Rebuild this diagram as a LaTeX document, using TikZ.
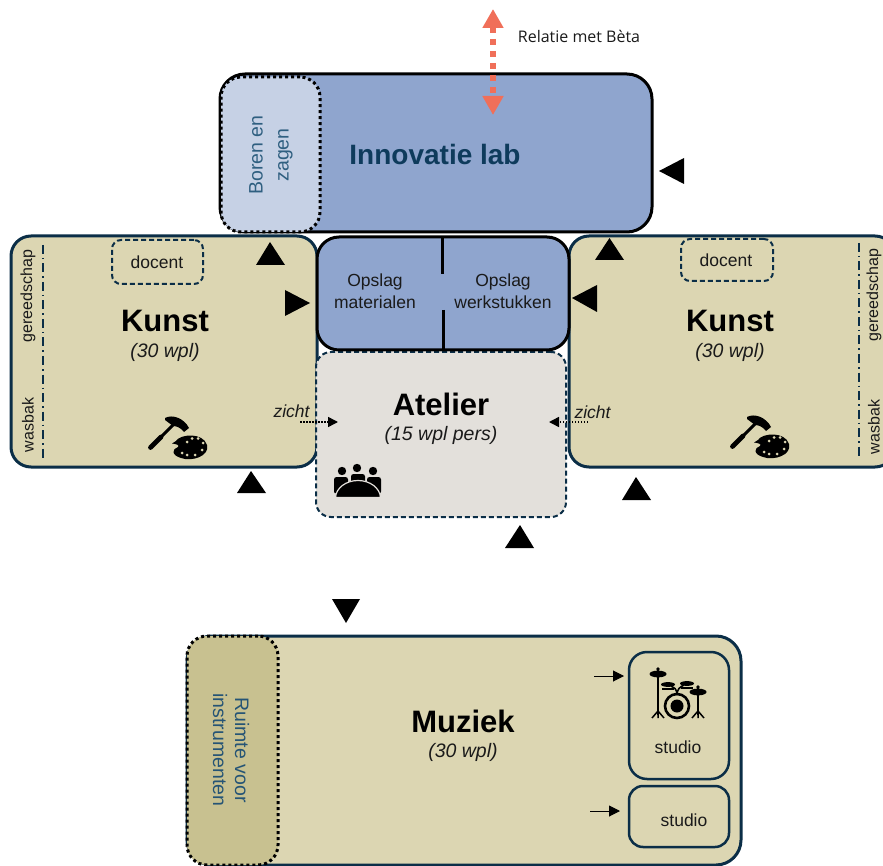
\documentclass[tikz,border=0pt]{standalone}
\usepackage{fontspec}
\setmainfont{Liberation Sans}
\newfontfamily\relfont{Open Sans}
\usetikzlibrary{arrows.meta}
\definecolor{tan}{HTML}{DCD6B2}
\definecolor{darktan}{HTML}{C8C190}
\definecolor{labblue}{HTML}{8FA5CE}
\definecolor{lightblue}{HTML}{C6D1E5}
\definecolor{atel}{HTML}{E3E0DB}
\definecolor{navy}{HTML}{0B2E47}
\definecolor{labtext}{HTML}{0E3B5C}
\definecolor{softtext}{HTML}{2F5F80}
\definecolor{ink}{HTML}{1A1A1A}
\definecolor{salmon}{HTML}{F06F59}
\tikzset{
  box/.style={inner sep=0pt,outer sep=0pt,align=center},
  room/.style={box,draw=navy,line width=3pt,fill=tan,rounded corners=20pt},
  blueroom/.style={box,draw=black,line width=3pt,fill=labblue,rounded corners=22pt},
  dottedbox/.style={box,draw=black,line width=3pt,dash pattern=on 3pt off 3pt,rounded corners=20pt},
  dashedbox/.style={box,draw=navy,line width=2pt,dash pattern=on 5pt off 3pt,rounded corners=9pt},
  studiobox/.style={box,draw=navy,line width=2.5pt,rounded corners=18pt},
  bigtitle/.style={box,font=\fontsize{31}{31}\selectfont\bfseries,text=black},
  subtitle/.style={box,font=\fontsize{19.5}{20}\selectfont\itshape,text=ink},
  small/.style={box,font=\fontsize{17.5}{21.5}\selectfont,text=ink},
  side/.style={box,font=\fontsize{16}{16}\selectfont,text=ink,rotate=90},
  marker/.style={fill=black,draw=none},
  zichtarrow/.style={draw=black,line width=1.5pt,dash pattern=on 1.5pt off 1.5pt,-{Triangle[length=10pt,width=10pt]}},
  smallarrow/.style={draw=black,line width=1pt,-{Triangle[length=11pt,width=11pt]}},
  divider/.style={draw=black,line width=3pt},
  chain/.style={draw=navy,line width=2pt,dash pattern=on 9pt off 4pt on 1.5pt off 4pt}
}
\newcommand{\toolsicon}[2]{%
 \begin{scope}[shift={(#1,#2)}]
  \draw[line width=4.8pt,line cap=round,black] (150.5,447.5) -- (161,437);
  \draw[line width=3pt,black] (160,438) -- (176,422);
  \fill[black] (165,418) .. controls (172,414) and (184,418) .. (189,428) -- (184,432) .. controls (181,428) and (177,426) .. (173,426) -- (165,420) -- cycle;
  \fill[black] (176,441) .. controls (180,434) and (203,432) .. (207,445) .. controls (210,456) and (192,462) .. (181,458) .. controls (171,455) and (172,449) .. (178,447) .. controls (180,445) and (176,444) .. (172,443.5) -- cycle;
  \foreach \p/\q in {187/442,192/438.5,198/438.5,203/443,202/450,195/455,187/455,182/453}
    \fill[tan] (\p,\q) circle (1.5pt);
 \end{scope}}
\begin{document}
\begin{tikzpicture}[x=1pt,y=-1pt]
\useasboundingbox (0,0) rectangle (883,866);
\clip (0,0) rectangle (883,866);

% Kunst rooms
\node[room,minimum width=306pt,minimum height=231pt] (kunstL) at (164,351.5) {};
\node[room,minimum width=326pt,minimum height=231pt] (kunstR) at (732,351.5) {};
% Atelier
\node[box,draw=navy,line width=2pt,dash pattern=on 5pt off 3pt,fill=atel,rounded corners=15pt,minimum width=250pt,minimum height=165pt] (atelier) at (441,434.5) {};
% Opslag
\node[blueroom,minimum width=252pt,minimum height=113pt] (opslag) at (443,293.5) {};
\coordinate (divTop) at (442,237);
\coordinate (divTopEnd) at (442,274);
\coordinate (divBot) at (443,310);
\coordinate (divBotEnd) at (443,350);
\draw[divider] (divTop) -- (divTopEnd);
\draw[divider] (divBot) -- (divBotEnd);
% Innovatie lab
\node[blueroom,rounded corners=25pt,minimum width=432pt,minimum height=158pt] (lab) at (436,153) {};
\node[dottedbox,fill=lightblue,minimum width=99pt,minimum height=155pt] (boren) at (270.5,154.5) {};
\node[box,rotate=90,font=\fontsize{19.5}{26}\selectfont,text=softtext] (borentxt) at (271,155) {Boren en\\zagen};
\node[box,font=\fontsize{28}{28}\selectfont\bfseries,text=labtext] (labtxt) at (435,154) {Innovatie lab};
% Red relation
\coordinate (relTop) at (493,9);
\coordinate (relBot) at (493,115);
\draw[draw=salmon,line width=6pt,dash pattern=on 6pt off 6pt,{Triangle[length=19pt,width=20pt]}-{Triangle[length=19pt,width=20pt]}] (relTop) -- (relBot);
\node[box,font=\relfont\fontsize{16}{16}\selectfont,text=ink] (rel) at (579,36) {Relatie met Bèta};

% Kunst left contents
\node[dashedbox,minimum width=91pt,minimum height=44pt] (docL) at (157.5,262) {};
\node[small] (docLt) at (157,262) {docent};
\node[bigtitle] (kL) at (165,321) {Kunst};
\node[subtitle] (kLs) at (165,352) {(30 wpl)};
\coordinate (chL1) at (43,245); \coordinate (chL2) at (43,460);
\draw[chain] (chL1) -- (chL2);
\node[side] (gL) at (28,296) {gereedschap};
\node[side] (wL) at (28,425) {wasbak};
\toolsicon{0}{0}

% Kunst right contents
\node[dashedbox,minimum width=92pt,minimum height=42pt] (docR) at (727,260) {};
\node[small] (docRt) at (726,260) {docent};
\node[bigtitle] (kR) at (730,321) {Kunst};
\node[subtitle] (kRs) at (730,352) {(30 wpl)};
\coordinate (chR1) at (859,243); \coordinate (chR2) at (859,458);
\draw[chain] (chR1) -- (chR2);
\node[side] (gR) at (874,295) {gereedschap};
\node[side] (wR) at (874,427) {wasbak};
\toolsicon{582}{-1}

% Opslag text
\node[small] (o1) at (375,291) {Opslag\\materialen};
\node[small] (o2) at (503,291) {Opslag\\werkstukken};

% Atelier contents
\node[bigtitle] (aT) at (441,404) {Atelier};
\node[subtitle] (aS) at (441,435) {(15 wpl pers)};
\fill[black,rounded corners=2.5pt] (334,494) -- (334,477) -- (348,477) -- (348,490) -- cycle;
\fill[black,rounded corners=2.5pt] (351,484) -- (351,474) -- (365,474) -- (365,484) -- cycle;
\fill[black,rounded corners=2.5pt] (367,490) -- (367,477) -- (381,477) -- (381,494) -- cycle;
\fill[black] (342,471) circle (4.2pt) (357,468) circle (4.2pt) (373,471) circle (4.2pt);
\filldraw[fill=black,draw=atel,line width=1.2pt] (335.5,497.5) .. controls (336,488) and (346,480.5) .. (358,480.5) .. controls (370,480.5) and (380,488) .. (380.5,497.5) -- cycle;

% zicht
\node[box,font=\fontsize{17.5}{18}\selectfont\itshape,text=ink] (zL) at (291.5,411) {zicht};
\node[box,font=\fontsize{17.5}{18}\selectfont\itshape,text=ink] (zR) at (592.5,412) {zicht};
\coordinate (zLa) at (300,422); \coordinate (zLb) at (338,422);
\coordinate (zRa) at (588,422); \coordinate (zRb) at (549,422);
\draw[zichtarrow] (zLa) -- (zLb);
\draw[zichtarrow] (zRa) -- (zRb);

% Muziek
\node[room,rounded corners=25pt,minimum width=554pt,minimum height=229pt] (muziek) at (464,750.5) {};
\node[dottedbox,fill=darktan,minimum width=91pt,minimum height=229pt] (instr) at (232.5,750.5) {};
\node[box,rotate=-90,font=\fontsize{19.5}{22}\selectfont,text=softtext!70!labtext] (instrt) at (231,750) {Ruimte voor\\instrumenten};
\node[bigtitle] (mT) at (463,721) {Muziek};
\node[subtitle] (mS) at (463,752) {(30 wpl)};
\node[studiobox,minimum width=100pt,minimum height=127pt] (st1) at (679,715.5) {};
\node[studiobox,rounded corners=14pt,minimum width=100pt,minimum height=61pt] (st2) at (679,816.5) {};
\node[small] (st1t) at (678,747) {studio};
\node[small] (st2t) at (684,820) {studio};
\coordinate (a1) at (594,676); \coordinate (a1e) at (624,676);
\coordinate (a2) at (590,811); \coordinate (a2e) at (620,811);
\draw[smallarrow] (a1) -- (a1e);
\draw[smallarrow] (a2) -- (a2e);

% Drum kit
\begin{scope}[black]
 \draw[line width=2.2pt] (658,668) -- (658,715);
 \draw[line width=2.2pt] (698,686) -- (698,715);
 \fill (658,674) ellipse (8.5pt and 3.4pt);
 \fill (658,669) circle (1.8pt);
 \fill (698,692) ellipse (8.5pt and 3.4pt);
 \fill (698,687) circle (1.8pt);
 \draw[line width=1.5pt] (652,718) -- (658,711) -- (664,718) (658,711) -- (658,718);
 \draw[line width=1.5pt] (692,718) -- (698,711) -- (704,718) (698,711) -- (698,718);
 \fill (668,684.5) ellipse (7pt and 2.4pt);
 \fill (687,683.5) ellipse (7pt and 2.4pt);
 \draw[line width=1.4pt] (662,689) -- (674,689) (681,688) -- (693,688);
 \draw[line width=1.6pt] (677,695) .. controls (677,689) and (674,687) .. (671,686);
 \draw[line width=1.6pt] (677,695) .. controls (677,689) and (680,687) .. (684,685);
 \draw[line width=2.6pt] (677,706) circle (12pt);
 \fill (677,706) circle (6.5pt);
\end{scope}

% Entrance markers
\fill[marker] (270,242) -- (285,265) -- (256,265) -- cycle;
\fill[marker] (310,303) -- (285,290) -- (285,316) -- cycle;
\fill[marker] (609.5,238) -- (624,260) -- (595,260) -- cycle;
\fill[marker] (572,298) -- (597,285) -- (597,312) -- cycle;
\fill[marker] (659,171) -- (684,158) -- (684,184) -- cycle;
\fill[marker] (251,471) -- (266,493) -- (237,493) -- cycle;
\fill[marker] (636,477) -- (651,500) -- (622,500) -- cycle;
\fill[marker] (520,525) -- (534,548) -- (505,548) -- cycle;
\fill[marker] (346,623) -- (360,599) -- (332,599) -- cycle;
\end{tikzpicture}
\end{document}
